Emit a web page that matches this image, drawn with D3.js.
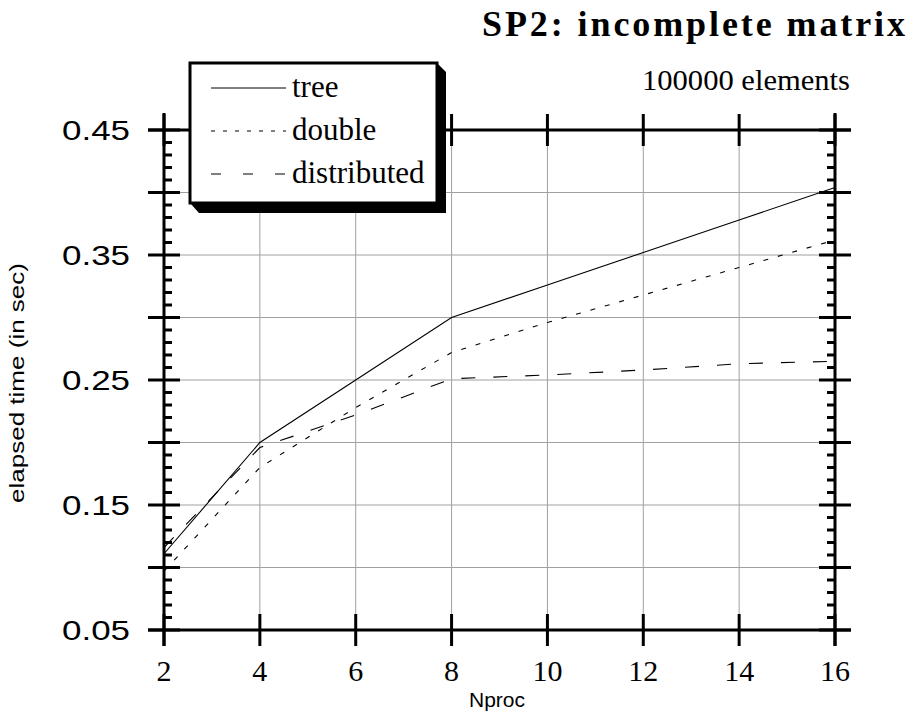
<!DOCTYPE html>
<html>
<head>
<meta charset="utf-8">
<script src="https://cdn.jsdelivr.net/npm/d3@7"></script>
<style>
  html, body { margin: 0; padding: 0; background: #fff; }
  svg { display: block; }
</style>
</head>
<body>
<svg id="chart" width="913" height="722"></svg>
<script>
const nproc = [2, 4, 6, 8, 10, 12, 14, 16];
const treeValues = [0.111, 0.200, 0.250, 0.300, 0.326, 0.352, 0.378, 0.404];
const doubleValues = [0.097, 0.180, 0.228, 0.272, 0.296, 0.318, 0.340, 0.362];
const distributedValues = [0.116, 0.196, 0.222, 0.251, 0.254, 0.258, 0.263, 0.265];
const seriesNames = ["tree", "double", "distributed"];
const yTicks = [0.05, 0.15, 0.25, 0.35, 0.45];
const yMajor = [0.05, 0.10, 0.15, 0.20, 0.25, 0.30, 0.35, 0.40, 0.45];
const yMinor = d3.range(5, 46).map(v => v / 100);
const titleText = "SP2:  incomplete matrix";
const subtitleText = "100000 elements";
const xLabel = "Nproc";
const yLabel = "elapsed time (in sec)";

const svg = d3.select("#chart");
const x = d3.scaleLinear().domain([2, 16]).range([164, 835]);
const y = d3.scaleLinear().domain([0.05, 0.45]).range([630, 130]);
const serif = "'Liberation Serif', 'Times New Roman', serif";
const sans = "'Liberation Sans', Arial, sans-serif";

// gridlines
const grid = svg.append("g").attr("stroke", "#a0a0a0").attr("stroke-width", 1);
grid.selectAll(".gx").data(nproc.slice(1, -1)).enter().append("line")
  .attr("x1", d => x(d)).attr("x2", d => x(d))
  .attr("y1", y(0.45)).attr("y2", y(0.05));
grid.selectAll(".gy").data(yMajor.slice(1, -1)).enter().append("line")
  .attr("x1", x(2)).attr("x2", x(16))
  .attr("y1", d => y(d)).attr("y2", d => y(d));

// data lines
const line = d3.line().x((d, i) => x(nproc[i])).y(d => y(d));
const styles = [
  { vals: treeValues, dash: null },
  { vals: doubleValues, dash: "5,10" },
  { vals: distributedValues, dash: "14,18" }
];
styles.forEach(s => {
  svg.append("path").datum(s.vals)
    .attr("d", line)
    .attr("fill", "none")
    .attr("stroke", "#000")
    .attr("stroke-width", 1.1)
    .attr("stroke-dasharray", s.dash);
});

// frame
const frame = svg.append("g").attr("stroke", "#000").attr("stroke-width", 3);
frame.append("line").attr("x1", x(2)).attr("x2", x(2)).attr("y1", y(0.45) - 17).attr("y2", y(0.05) + 16);
frame.append("line").attr("x1", x(16)).attr("x2", x(16)).attr("y1", y(0.45) - 17).attr("y2", y(0.05) + 16);
frame.append("line").attr("x1", x(2) - 16).attr("x2", x(16) + 16).attr("y1", y(0.45)).attr("y2", y(0.45));
frame.append("line").attr("x1", x(2) - 16).attr("x2", x(16) + 16).attr("y1", y(0.05)).attr("y2", y(0.05));

// major ticks y (both sides)
frame.selectAll(".myl").data(yMajor).enter().append("line")
  .attr("x1", x(2) - 16).attr("x2", x(2) + 16)
  .attr("y1", d => y(d)).attr("y2", d => y(d));
frame.selectAll(".myr").data(yMajor).enter().append("line")
  .attr("x1", x(16) - 16).attr("x2", x(16) + 16)
  .attr("y1", d => y(d)).attr("y2", d => y(d));
// minor ticks y
const minorOnly = yMinor.filter(v => Math.round(v * 100) % 5 !== 0);
frame.selectAll(".mnl").data(minorOnly).enter().append("line")
  .attr("x1", x(2)).attr("x2", x(2) + 8)
  .attr("y1", d => y(d)).attr("y2", d => y(d));
frame.selectAll(".mnr").data(minorOnly).enter().append("line")
  .attr("x1", x(16) - 8).attr("x2", x(16))
  .attr("y1", d => y(d)).attr("y2", d => y(d));
// major ticks x (top and bottom)
frame.selectAll(".mxb").data(nproc).enter().append("line")
  .attr("x1", d => x(d)).attr("x2", d => x(d))
  .attr("y1", y(0.05) - 16).attr("y2", y(0.05) + 16);
frame.selectAll(".mxt").data(nproc).enter().append("line")
  .attr("x1", d => x(d)).attr("x2", d => x(d))
  .attr("y1", y(0.45) - 16).attr("y2", y(0.45) + 16);

// tick labels
svg.selectAll(".xl").data(nproc).enter().append("text")
  .attr("x", d => x(d)).attr("y", 681)
  .attr("text-anchor", "middle")
  .attr("font-family", serif).attr("font-size", 30)
  .text(d => d);
svg.selectAll(".yl").data(yTicks).enter().append("text")
  .attr("x", 130).attr("y", d => y(d) + 10)
  .attr("text-anchor", "end")
  .attr("font-family", sans).attr("font-size", 28)
  .attr("textLength", 68).attr("lengthAdjust", "spacingAndGlyphs")
  .text(d => d.toFixed(2));

// axis titles
svg.append("text").attr("x", 497).attr("y", 707)
  .attr("text-anchor", "middle").attr("font-family", sans).attr("font-size", 20)
  .attr("textLength", 56).attr("lengthAdjust", "spacingAndGlyphs")
  .text(xLabel);
svg.append("text")
  .attr("transform", "translate(24,383) rotate(-90)")
  .attr("text-anchor", "middle").attr("font-family", sans).attr("font-size", 21)
  .attr("textLength", 240).attr("lengthAdjust", "spacingAndGlyphs")
  .text(yLabel);

// title
svg.append("text").attr("x", 905).attr("y", 36)
  .attr("text-anchor", "end").attr("font-family", serif).attr("font-weight", "bold")
  .attr("font-size", 36).attr("textLength", 423).attr("lengthAdjust", "spacing")
  .text(titleText);
svg.append("text").attr("x", 850).attr("y", 90)
  .attr("text-anchor", "end").attr("font-family", serif)
  .attr("font-size", 30)
  .attr("textLength", 208).attr("lengthAdjust", "spacingAndGlyphs")
  .text(subtitleText);

// legend
const lg = svg.append("g");
lg.append("path")
  .attr("d", "M190,203 L199,213 L446,213 L446,72 L437,63 L437,203 Z")
  .attr("fill", "#000");
lg.append("rect").attr("x", 190).attr("y", 63).attr("width", 247).attr("height", 140)
  .attr("fill", "#fff").attr("stroke", "#000").attr("stroke-width", 3);
const legY = [88, 131, 174];
const legDash = [null, "4,8", "10,22"];
seriesNames.forEach((n, i) => {
  lg.append("line").attr("x1", 211).attr("x2", 286)
    .attr("y1", legY[i]).attr("y2", legY[i])
    .attr("stroke", "#000").attr("stroke-width", 1)
    .attr("stroke-dasharray", legDash[i]);
  lg.append("text").attr("x", 292).attr("y", legY[i] + 9)
    .attr("font-family", serif).attr("font-size", 31)
    .text(n);
});
</script>
</body>
</html>
